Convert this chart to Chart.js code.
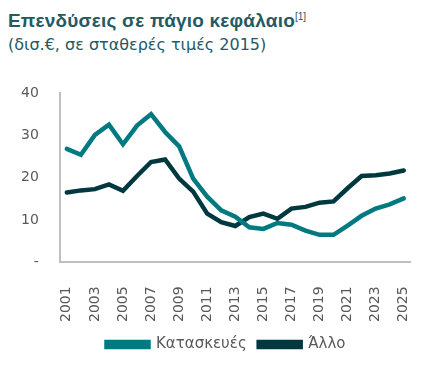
<!DOCTYPE html>
<html>
<head>
<meta charset="utf-8">
<script src="https://cdn.jsdelivr.net/npm/chart.js@4"></script>
<style>
  html, body { margin: 0; padding: 0; background: #fff; }
  #wrap { position: relative; width: 437px; height: 372px; }
  #title { position: absolute; left: 8px; top: 10px; font: bold 19px 'Liberation Sans', sans-serif; color: #255a63; letter-spacing: 0.2px; white-space: nowrap; }
  #title sup { font-size: 10px; font-weight: normal; letter-spacing: 0; }
  #subtitle { position: absolute; left: 8px; top: 35px; font: 16px 'DejaVu Sans', sans-serif; color: #255a63; white-space: nowrap; }
  canvas { position: absolute; left: 0; top: 0; }
</style>
</head>
<body>
<div id="wrap">
  <div id="title">Επενδύσεις σε πάγιο κεφάλαιο<sup>[1]</sup></div>
  <div id="subtitle">(δισ.€, σε σταθερές τιμές 2015)</div>
  <canvas id="chart" width="437" height="372"></canvas>
</div>
<script>
const years = ['2001','2002','2003','2004','2005','2006','2007','2008','2009','2010','2011','2012','2013',
               '2014','2015','2016','2017','2018','2019','2020','2021','2022','2023','2024','2025'];
const construction = [26.8, 25.4, 30.1, 32.5, 27.9, 32.3, 35.0, 30.8, 27.4, 19.8, 15.5, 12.3, 10.8,
                      8.3, 7.9, 9.3, 8.9, 7.5, 6.5, 6.5, 8.7, 11.0, 12.7, 13.7, 15.1];
const other = [16.5, 17.0, 17.3, 18.4, 16.9, 20.4, 23.7, 24.3, 19.8, 16.7, 11.5, 9.5, 8.6,
               10.7, 11.5, 10.3, 12.7, 13.1, 14.1, 14.4, 17.5, 20.4, 20.6, 21.0, 21.7];
const yTicks = [0, 10, 20, 30, 40];

const tickFont = { family: "'DejaVu Sans', sans-serif", size: 14 };
const grey = '#595959';

new Chart(document.getElementById('chart'), {
  type: 'line',
  data: {
    labels: years,
    datasets: [
      { label: 'Κατασκευές', data: construction, borderColor: '#007a80', backgroundColor: '#007a80',
        borderWidth: 4.5, pointRadius: 0, tension: 0, borderCapStyle: 'round' },
      { label: 'Άλλο', data: other, borderColor: '#003840', backgroundColor: '#003840',
        borderWidth: 4.5, pointRadius: 0, tension: 0, borderCapStyle: 'round' }
    ]
  },
  options: {
    responsive: false,
    animation: false,
    layout: { padding: { top: 93, left: 0, right: 23, bottom: 10 } },
    scales: {
      x: {
        offset: true,
        grid: { display: false },
        border: { color: '#bfbfbf', width: 2 },
        afterFit: (s) => { s.height -= 13; },
        ticks: {
          autoSkip: false, maxRotation: 90, minRotation: 90, padding: 16,
          color: grey, font: tickFont,
          callback: (v, i) => (i % 2 === 0 ? years[i] : '')
        }
      },
      y: {
        min: 0, max: 40,
        grid: { display: false, drawTicks: false },
        border: { color: '#bfbfbf', width: 2 },
        afterBuildTicks: (axis) => { axis.ticks = yTicks.map(v => ({ value: v })); },
        ticks: {
          padding: 21, color: grey, font: tickFont,
          callback: (v) => (v === 0 ? '-' : v)
        }
      }
    },
    plugins: {
      legend: {
        position: 'bottom',
        labels: { boxWidth: 42, boxHeight: 5, color: grey, padding: 12,
                  font: { family: "'DejaVu Sans', sans-serif", size: 15 } }
      },
      tooltip: { enabled: false }
    }
  },
  plugins: [{
    // legend sits a little right of the canvas centre in the original
    id: 'legendShift',
    afterLayout: (chart) => { chart.legend.left += 19; chart.legend.right += 19; }
  }]
});
</script>
</body>
</html>
